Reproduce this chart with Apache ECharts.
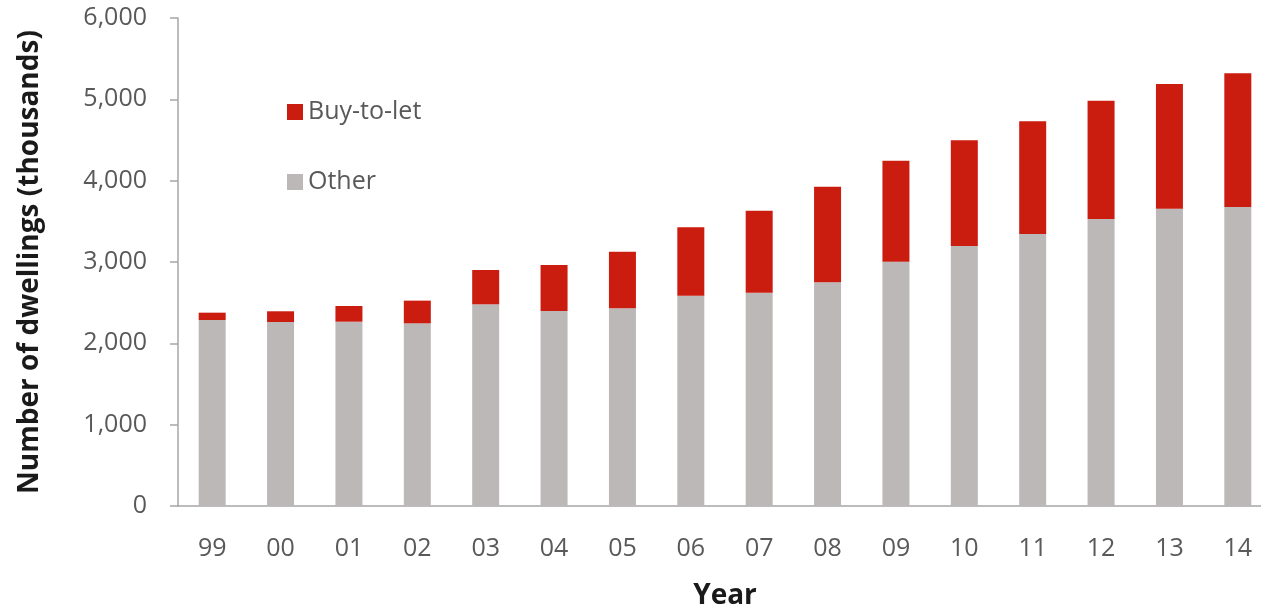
<!DOCTYPE html>
<html>
<head>
<meta charset="utf-8">
<script src="https://cdn.jsdelivr.net/npm/echarts@6/dist/echarts.min.js"></script>
<style>
  html, body { margin: 0; padding: 0; background: #ffffff; }
  #chart { width: 1261px; height: 605px; }
</style>
</head>
<body>
<div id="chart"></div>
<script>
// Dwelling stock by year (thousands)
const years = ['99', '00', '01', '02', '03', '04', '05', '06', '07', '08', '09', '10', '11', '12', '13', '14'];
const other = [2287, 2262, 2266, 2246, 2480, 2398, 2431, 2586, 2623, 2750, 3004, 3197, 3344, 3529, 3656, 3676];
const buyToLet = [90, 132, 193, 279, 422, 565, 696, 840, 1008, 1176, 1242, 1299, 1386, 1455, 1533, 1644];
const yTicks = [0, 1000, 2000, 3000, 4000, 5000, 6000];

const labelFont = 'Open Sans';
const axisGrey = '#a6a6a6';
const textGrey = '#595959';

const chart = echarts.init(document.getElementById('chart'), null, { renderer: 'canvas' });

chart.setOption({
  animation: false,
  backgroundColor: '#ffffff',
  grid: { left: 178, top: 18, width: 1094, height: 488, outerBoundsMode: 'none', containLabel: false },
  legend: {
    orient: 'vertical',
    left: 282,
    top: 94,
    itemWidth: 16,
    itemHeight: 16,
    itemGap: 44,
    icon: 'rect',
    data: ['Buy-to-let', 'Other'],
    textStyle: { fontFamily: labelFont, fontSize: 25, color: textGrey, lineHeight: 26 }
  },
  xAxis: {
    type: 'category',
    data: years,
    name: 'Year',
    nameLocation: 'middle',
    nameGap: 76,
    nameTextStyle: { fontFamily: labelFont, fontSize: 28, fontWeight: 'bold', color: '#1a1a1a' },
    axisLine: { lineStyle: { color: axisGrey, width: 1.5 } },
    axisTick: { length: 8, lineStyle: { color: axisGrey, width: 1.5 } },
    axisLabel: { margin: 30, fontFamily: labelFont, fontSize: 25, color: textGrey }
  },
  yAxis: {
    type: 'value',
    min: 0,
    max: 6000,
    interval: 1000,
    name: 'Number of dwellings (thousands)',
    nameLocation: 'middle',
    nameGap: 134,
    nameTextStyle: { fontFamily: labelFont, fontSize: 28, fontWeight: 'bold', color: '#1a1a1a' },
    axisLine: { show: true, lineStyle: { color: axisGrey, width: 1.5 } },
    axisTick: { show: true, length: 8, lineStyle: { color: axisGrey, width: 1.5 } },
    splitLine: { show: false },
    axisLabel: {
      margin: 31,
      fontFamily: labelFont,
      fontSize: 25,
      color: textGrey,
      formatter: v => yTicks.includes(v) ? v.toLocaleString('en-US') : ''
    }
  },
  series: [
    {
      name: 'Other',
      type: 'bar',
      stack: 'total',
      data: other,
      barWidth: 27,
      itemStyle: { color: '#bcb8b7' }
    },
    {
      name: 'Buy-to-let',
      type: 'bar',
      stack: 'total',
      data: buyToLet,
      barWidth: 27,
      itemStyle: { color: '#cb1c10' }
    }
  ]
});
</script>
</body>
</html>
